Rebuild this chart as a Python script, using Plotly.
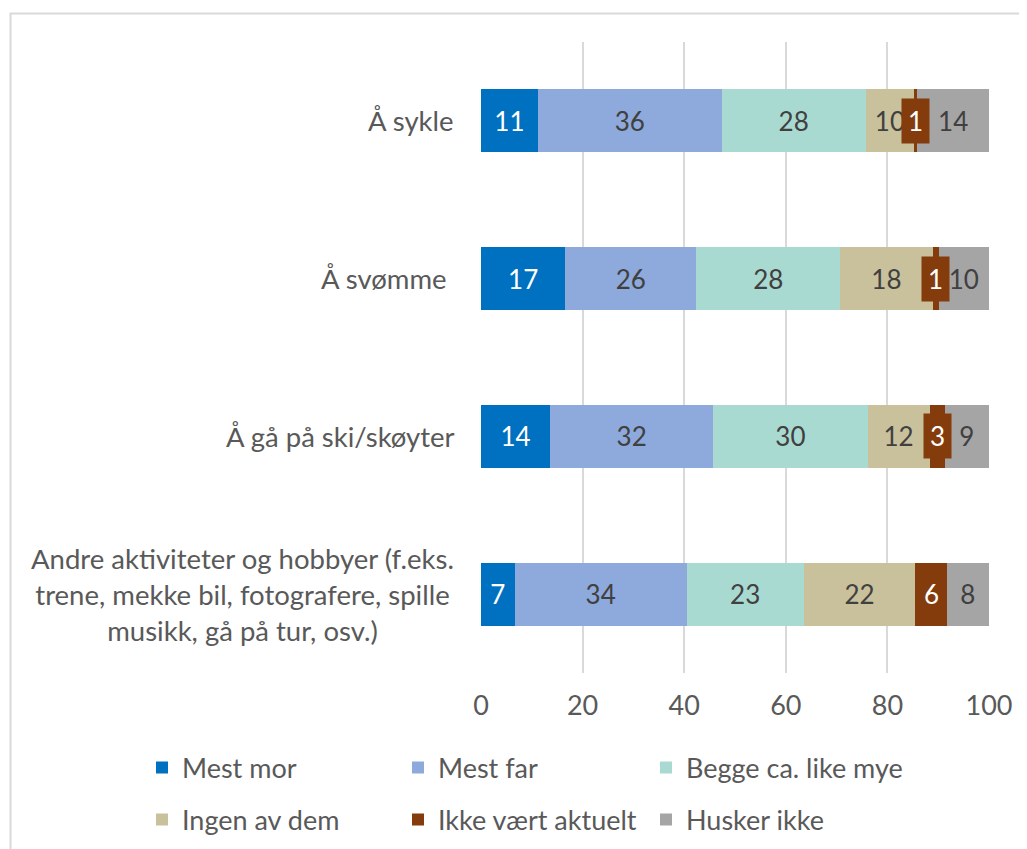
import plotly.graph_objects as go

categories = ["Å sykle", "Å svømme\u00a0", "Å gå på ski/skøyter",
              "Andre aktiviteter og hobbyer (f.eks.<br>trene, mekke bil, fotografere, spille<br>musikk, gå på tur, osv.)"]
series_names = ["Mest mor", "Mest far", "Begge ca. like mye", "Ingen av dem", "Ikke vært aktuelt", "Husker ikke"]

mest_mor = [11.2, 16.6, 13.6, 6.6]
mest_far = [36.2, 25.8, 32.1, 33.9]
begge = [28.3, 28.3, 30.4, 23.0]
ingen = [9.6, 18.2, 12.2, 22.0]
ikke_aktuelt = [0.6, 1.2, 3.0, 6.2]
husker_ikke = [14.1, 9.9, 8.7, 8.3]

series_values = [mest_mor, mest_far, begge, ingen, ikke_aktuelt, husker_ikke]
colors = ["#0070C0", "#8EA9DB", "#A9DAD2", "#C9C19C", "#843C0C", "#A5A5A5"]
text_colors = ["#FFFFFF", "#404040", "#404040", "#404040", "#FFFFFF", "#404040"]

# figure is 8px smaller than the window to leave room for the page's body margin
W, H = 1019, 841
# legend placement (pixels in figure coordinates)
legend_x_px = [134, 390, 638, 134, 390, 638]
legend_y_px = [760, 760, 760, 812, 812, 812]

FONT = "Lato"
fig = go.Figure()
legend_layouts = {}
for i, (name, vals) in enumerate(zip(series_names, series_values)):
    show_text = i != 4
    lg = "legend" if i == 0 else f"legend{i + 1}"
    fig.add_trace(go.Bar(
        y=categories, x=vals, name=name, orientation="h",
        marker=dict(color=colors[i], line=dict(width=0)),
        text=[f"{round(v)}" for v in vals] if show_text else None,
        textposition="inside" if show_text else "none",
        insidetextanchor="middle",
        textangle=0,
        textfont=dict(family=FONT, size=26, color=text_colors[i]),
        legend=lg, showlegend=True,
        hoverinfo="x+name",
    ))
    legend_layouts[lg] = dict(
        orientation="h", xref="container", yref="container",
        x=legend_x_px[i] / W, y=1 - legend_y_px[i] / H, xanchor="left", yanchor="middle",
        font=dict(family=FONT, size=27, color="#595959"), bgcolor="rgba(0,0,0,0)",
    )

annotations = []
for j, cat in enumerate(categories):
    start = mest_mor[j] + mest_far[j] + begge[j] + ingen[j]
    annotations.append(dict(
        x=start + ikke_aktuelt[j] / 2, y=cat, xref="x", yref="y",
        text=f"{round(ikke_aktuelt[j])}", showarrow=False,
        font=dict(family=FONT, size=26, color="#FFFFFF"),
        bgcolor="#843C0C", borderpad=6, xanchor="center", yanchor="middle",
    ))
    annotations.append(dict(
        x=0, y=cat, xref="paper", yref="y", text=cat, showarrow=False,
        xanchor="right", yanchor="middle", align="center", xshift=-25,
        font=dict(family=FONT, size=27.5, color="#595959"),
    ))

fig.update_layout(
    width=W, height=H,
    margin=dict(l=473, r=38, t=34, b=176, autoexpand=False),
    showlegend=True,
    barmode="stack", bargap=0.60,
    plot_bgcolor="white", paper_bgcolor="white",
    font=dict(family=FONT, size=26, color="#595959"),
    uniformtext=dict(minsize=26, mode="show"),
    xaxis=dict(range=[0, 100], tickvals=[0, 20, 40, 60, 80, 100], showgrid=True,
               gridcolor="#D9D9D9", gridwidth=1.5, zeroline=False, showline=False,
               ticklabelstandoff=14, tickfont=dict(family=FONT, size=27, color="#595959"),
               fixedrange=True),
    yaxis=dict(autorange="reversed", showticklabels=False, showgrid=False,
               zeroline=False, showline=False),
    annotations=annotations,
    shapes=[dict(type="rect", xref="paper", yref="paper",
                 x0=(2.5 - 473) / 508, x1=1.5, y0=-0.6, y1=(665 - 5.5) / 631,
                 line=dict(color="#D9D9D9", width=2), fillcolor="rgba(0,0,0,0)", layer="below")],
    **legend_layouts,
)

fig.write_html("out.html")
